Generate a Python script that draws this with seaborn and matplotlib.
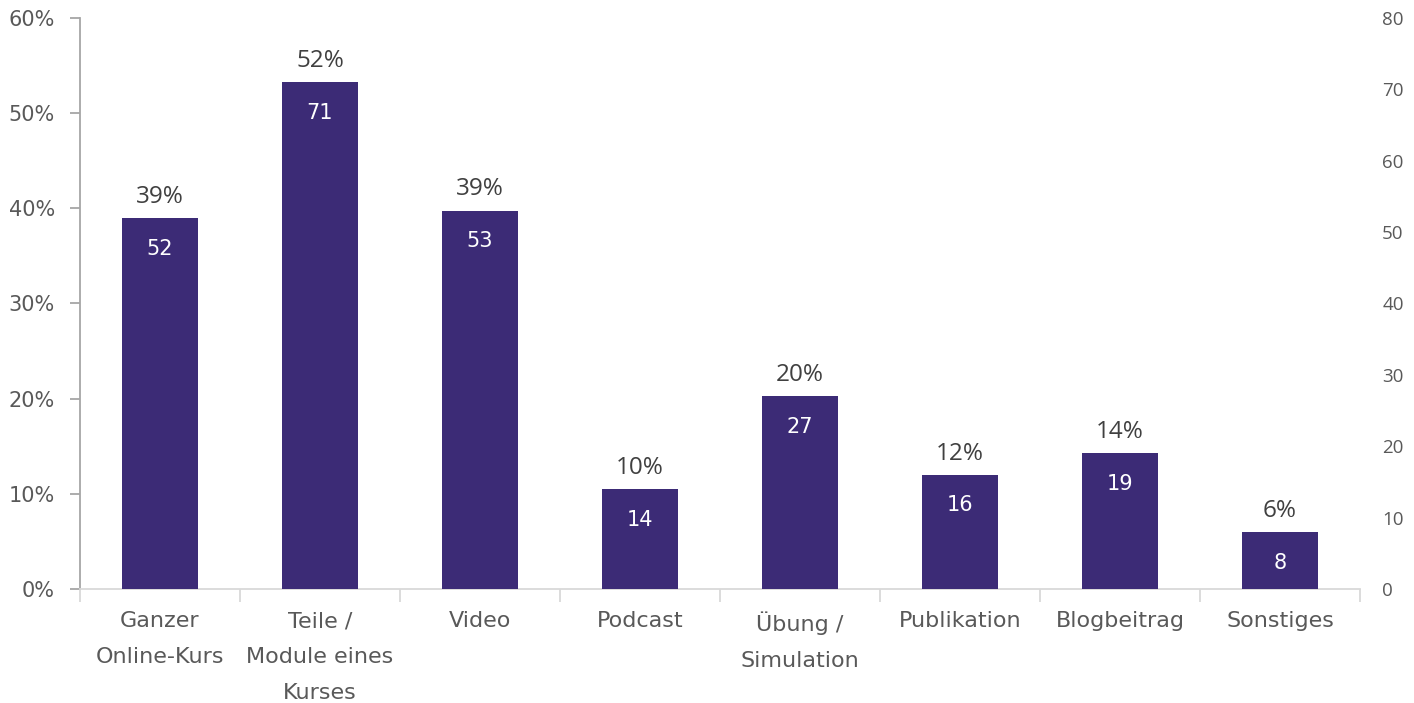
import matplotlib
matplotlib.use("Agg")
import matplotlib.pyplot as plt
import seaborn as sns
import pandas as pd
import numpy as np
from matplotlib.ticker import PercentFormatter, FixedLocator

categories = ["Ganzer\nOnline-Kurs", "Teile /\nModule eines\nKurses", "Video", "Podcast",
              "Übung /\nSimulation", "Publikation", "Blogbeitrag", "Sonstiges"]
counts = [52, 71, 53, 14, 27, 16, 19, 8]
percents = [39, 52, 39, 10, 20, 12, 14, 6]

bar_color = "#3c2b76"

sns.set_theme(style="white")
plt.rcParams['font.family'] = ['DejaVu Sans']

fig = plt.figure(figsize=(14.14, 7.03), dpi=100)
ax = fig.add_axes([80/1414, (703-589)/703, (1360-80)/1414, (589-18)/703])
ax2 = ax.twinx()

df = pd.DataFrame({"cat": categories, "count": counts})
sns.barplot(data=df, x="cat", y="count", ax=ax2, color=bar_color, width=0.47,
            saturation=1, edgecolor="none")

ax2.set_ylim(0, 80)
ax.set_ylim(0, 0.6)
ax.set_xlim(-0.5, len(categories) - 0.5)
ax2.set_xlim(-0.5, len(categories) - 0.5)

ax.yaxis.set_major_formatter(PercentFormatter(1.0, decimals=0))
ax.set_yticks(np.arange(0, 0.61, 0.1))
ax2.set_yticks(np.arange(0, 81, 10))

for s in ["top", "right"]:
    ax.spines[s].set_visible(False)
    ax2.spines[s].set_visible(False)
ax2.spines["left"].set_visible(False)
ax2.spines["bottom"].set_visible(False)
ax.spines["left"].set_color("#a6a6a6")
ax.spines["left"].set_linewidth(1.3)
ax.spines["bottom"].set_color("#d9d9d9")
ax.spines["bottom"].set_linewidth(1.3)

ax.tick_params(axis="y", which="major", left=True, length=7, width=1.3, color="#a6a6a6",
               labelsize=15, labelcolor="#595959", pad=11)
ax2.tick_params(axis="y", right=False, labelsize=13.5, labelcolor="#595959", pad=10)
for t in ax2.get_yticklabels():
    t.set_family(['Open Sans', 'DejaVu Sans'])

ax2.set_xlabel("")
ax2.set_ylabel("")
ax.set_ylabel("")
ax.set_xticks(range(len(categories)))
ax.set_xticklabels(categories, fontsize=16, color="#595959", linespacing=1.98)
ax.tick_params(axis="x", which="major", bottom=False, length=0, pad=16)
ax.xaxis.set_minor_locator(FixedLocator(np.arange(-0.5, len(categories), 1.0)))
ax.tick_params(axis="x", which="minor", bottom=True, length=9, width=1.3, color="#d9d9d9")
ax2.tick_params(axis="x", bottom=False, labelbottom=False)

for i, (c, p) in enumerate(zip(counts, percents)):
    ax2.text(i, c + 1.3, f"{p}%", ha="center", va="bottom", fontsize=17.5,
             color="#404040", family=['Open Sans', 'DejaVu Sans'])
    ax2.text(i, c - 2.9, f"{c}", ha="center", va="top", fontsize=15, color="white")

fig.savefig("out.png", dpi=100)
